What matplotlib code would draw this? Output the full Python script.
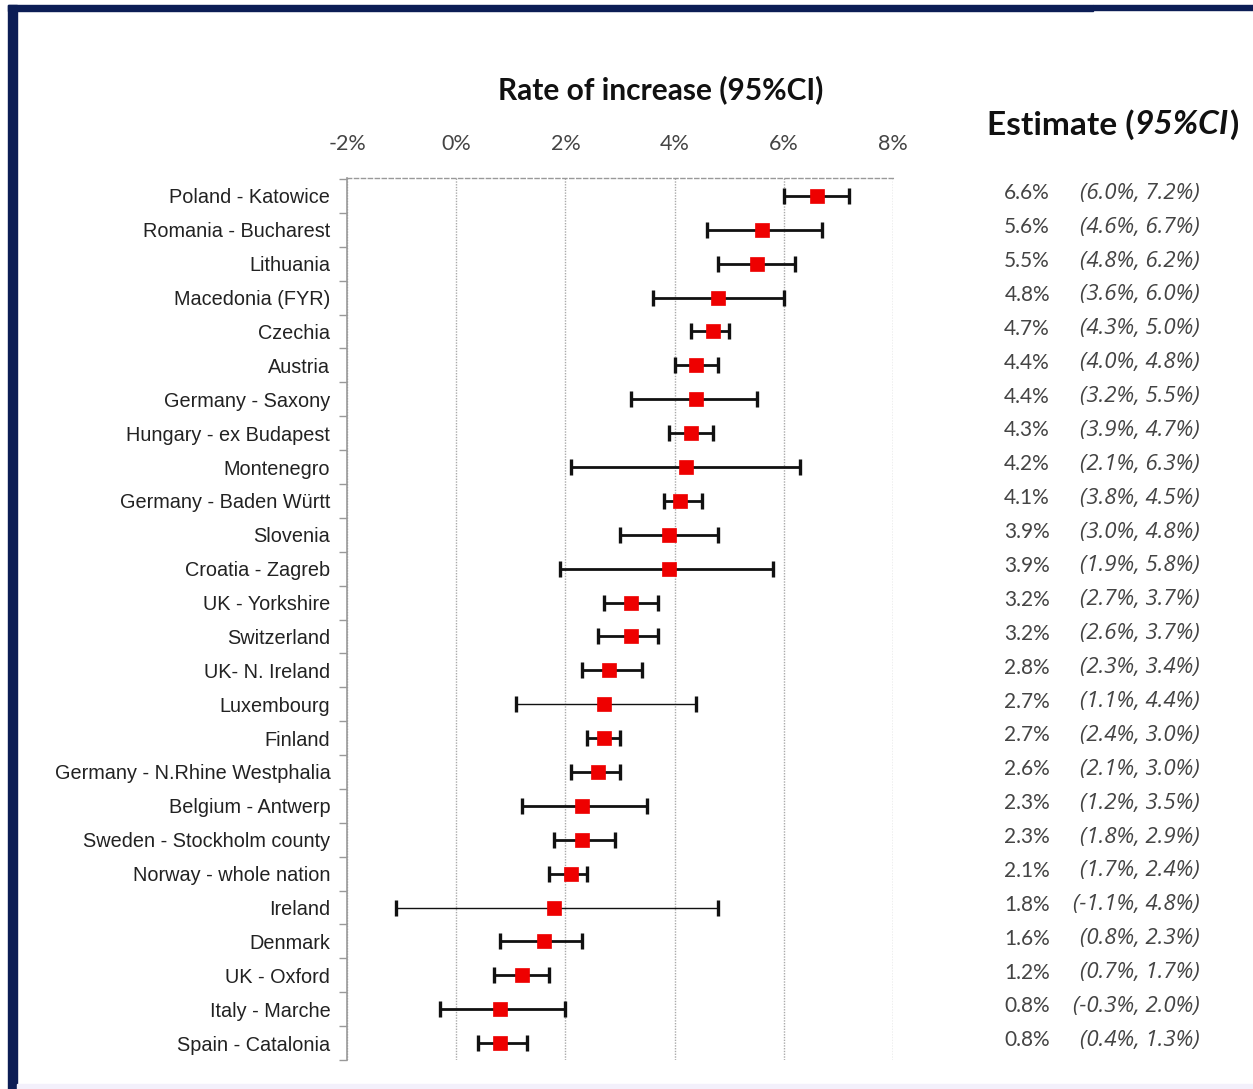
import matplotlib
matplotlib.use("Agg")
import matplotlib.pyplot as plt
from matplotlib.patches import Rectangle
from matplotlib.transforms import blended_transform_factory
from matplotlib.ticker import FixedLocator, FuncFormatter

# ---- data -------------------------------------------------------------
regions = [
    "Poland - Katowice", "Romania - Bucharest", "Lithuania", "Macedonia (FYR)",
    "Czechia", "Austria", "Germany - Saxony", "Hungary - ex Budapest",
    "Montenegro", "Germany - Baden Württ", "Slovenia", "Croatia - Zagreb",
    "UK - Yorkshire", "Switzerland", "UK- N. Ireland", "Luxembourg", "Finland",
    "Germany - N.Rhine Westphalia", "Belgium - Antwerp",
    "Sweden - Stockholm county", "Norway - whole nation", "Ireland", "Denmark",
    "UK - Oxford", "Italy - Marche", "Spain - Catalonia",
]
estimate = [6.6, 5.6, 5.5, 4.8, 4.7, 4.4, 4.4, 4.3, 4.2, 4.1, 3.9, 3.9, 3.2,
            3.2, 2.8, 2.7, 2.7, 2.6, 2.3, 2.3, 2.1, 1.8, 1.6, 1.2, 0.8, 0.8]
ci_low = [6.0, 4.6, 4.8, 3.6, 4.3, 4.0, 3.2, 3.9, 2.1, 3.8, 3.0, 1.9, 2.7,
          2.6, 2.3, 1.1, 2.4, 2.1, 1.2, 1.8, 1.7, -1.1, 0.8, 0.7, -0.3, 0.4]
ci_high = [7.2, 6.7, 6.2, 6.0, 5.0, 4.8, 5.5, 4.7, 6.3, 4.5, 4.8, 5.8, 3.7,
           3.7, 3.4, 4.4, 3.0, 3.0, 3.5, 2.9, 2.4, 4.8, 2.3, 1.7, 2.0, 1.3]
x_ticks = [-2, 0, 2, 4, 6, 8]
thin_rows = {"Luxembourg", "Ireland"}

# ---- figure -----------------------------------------------------------
W, H = 1253, 1089
fig = plt.figure(figsize=(W / 100, H / 100), dpi=100)
fig.patch.set_facecolor("white")

navy = "#0c1d55"
# frame strips
fig.add_artist(Rectangle((8 / W, 0), 9 / W, 1 - 5 / H, transform=fig.transFigure,
                         color=navy, zorder=10))
fig.add_artist(Rectangle((8 / W, 1 - 11 / H), 1085 / W, 6 / H,
                         transform=fig.transFigure, color=navy, zorder=10))
fig.add_artist(Rectangle((1093 / W, 1 - 10 / H), (W - 1093) / W, 5 / H,
                         transform=fig.transFigure, color=navy, zorder=10))
fig.add_artist(Rectangle((17 / W, 0), 1 - 17 / W, 5 / H,
                         transform=fig.transFigure, color="#f3f0fb", zorder=10))

left, right, top, bottom = 347, 893, 178, 1060
ax = fig.add_axes([left / W, 1 - bottom / H, (right - left) / W, (bottom - top) / H])

n = len(regions)
ypos = list(range(n))
ax.set_xlim(-2, 8)
ax.set_ylim(n - 0.5, -0.53)

for i in range(n):
    lw = 1.0 if regions[i] in thin_rows else 2.0
    ax.errorbar(estimate[i], ypos[i],
                xerr=[[estimate[i] - ci_low[i]], [ci_high[i] - estimate[i]]],
                fmt="none", ecolor="#111111", elinewidth=lw, capsize=5.5,
                capthick=2.4, zorder=3)
ax.plot(estimate, ypos, linestyle="none", marker="s", markersize=10,
        markerfacecolor="#ee0000", markeredgecolor="#ee0000",
        markeredgewidth=0.5, zorder=4)

# axes styling
for side in ("right", "bottom"):
    ax.spines[side].set_visible(False)
ax.spines["top"].set_linestyle((0, (3, 2)))
ax.spines["top"].set_color("#999999")
ax.spines["top"].set_linewidth(1.0)
ax.spines["left"].set_color("#999999")
ax.spines["left"].set_linewidth(1.2)

ax.xaxis.set_major_locator(FixedLocator(x_ticks))
ax.xaxis.set_major_formatter(FuncFormatter(lambda v, p: f"{v:.0f}%"))
ax.xaxis.tick_top()
ax.tick_params(axis="x", length=0, pad=17, labelsize=15.5, labelcolor="#444444")
for lab in ax.get_xticklabels():
    lab.set_family(["Lato", "DejaVu Sans"])
ax.grid(axis="x", color="#aaaaaa", linestyle=(0, (1, 1)), linewidth=1.0)

ax.set_yticks(ypos)
ax.set_yticklabels(regions, family=["Liberation Sans", "DejaVu Sans"],
                   fontsize=14.3, color="#222222")
ax.set_yticks([y + 0.5 for y in ypos[:-1]] + [-0.5, n - 0.5], minor=True)
ax.tick_params(axis="y", which="major", length=0, pad=12)
ax.tick_params(axis="y", which="minor", length=6, color="#999999", width=1.0)

# title
fig.text(661 / W, 1 - 90 / H, "Rate of increase (95%CI)", ha="center",
         va="center", fontsize=21.5, fontweight="bold",
         family=["Lato", "DejaVu Sans"], color="#111111")

# right-hand estimate column
tr = blended_transform_factory(fig.transFigure, ax.transData)
for i in range(n):
    ax.text(1050 / W, ypos[i] - 0.08, f"{estimate[i]:.1f}%", transform=tr,
            ha="right", va="center", fontsize=15, color="#444444",
            family=["Lato", "DejaVu Sans"], clip_on=False)
    ax.text(1200 / W, ypos[i] - 0.08, f"({ci_low[i]:.1f}%, {ci_high[i]:.1f}%)",
            transform=tr, ha="right", va="center", fontsize=16,
            style="italic", color="#444444", family=["Open Sans", "DejaVu Sans"],
            clip_on=False)

# column header with italic part
renderer = fig.canvas.get_renderer()
hx = 987 / W
hy = 1 - 125 / H
parts = [("Estimate (", "normal"), ("95%CI", "italic"), (")", "normal")]
for txt, st in parts:
    t = fig.text(hx, hy, txt, ha="left", va="center", fontsize=24,
                 fontweight="bold", style=st, family=["Lato", "DejaVu Sans"],
                 color="#111111")
    bb = t.get_window_extent(renderer=renderer)
    hx += bb.width / W

fig.savefig("out.png", dpi=100)
